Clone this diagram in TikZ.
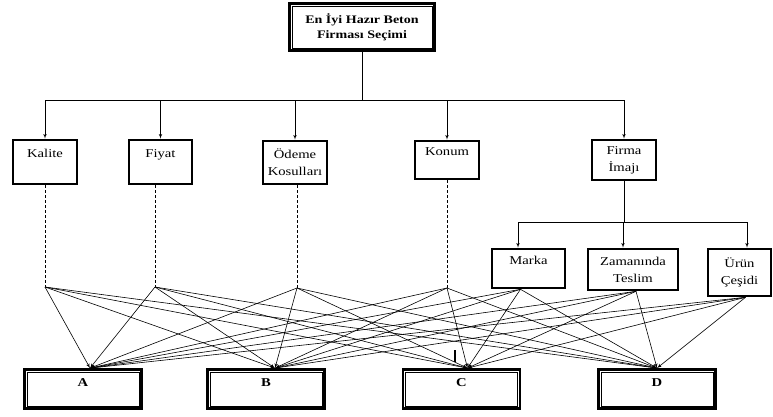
\documentclass[tikz,border=0pt]{standalone}
\usepackage{fontspec}
\setmainfont[FakeStretch=1.22]{Liberation Serif}
\usetikzlibrary{arrows}

\begin{document}
\begin{tikzpicture}[x=1pt,y=-1pt]

\tikzset{crit/.style = {draw, line width=2.6pt, align=center, inner sep=2pt,
  font=\fontsize{12}{17}\selectfont}}
\tikzset{dbox/.style = {draw, line width=2.8pt, align=center,
  font=\fontsize{11.5}{15}\selectfont\bfseries}}
\tikzset{edge/.style = {->,> = latex', line width=0.6pt}}
\tikzset{link/.style = {line width=0.6pt}}
\tikzset{dashline/.style = {line width=0.6pt, dash pattern=on 3pt off 2pt}}

\useasboundingbox (0,0) rectangle (773,416);

%goal
\node[dbox, minimum width=145, minimum height=47] (goal) at (362,27) {En İyi Hazır Beton\\Firması Seçimi};
%criteria
\node[crit, minimum width=64, minimum height=44] (kalite) at (45,162) {Kalite\\\mbox{}};
\node[crit, minimum width=63, minimum height=44] (fiyat) at (160.5,162) {Fiyat\\\mbox{}};
\node[crit, minimum width=64, minimum height=43] (odeme) at (295,162.5) {Ödeme\\Kosulları};
\node[crit, minimum width=64, minimum height=38] (konum) at (447,160) {Konum\\\mbox{}};
\node[crit, minimum width=64, minimum height=40] (firma) at (624,160) {Firma\\İmajı};
%sub criteria
\node[crit, minimum width=73, minimum height=39] (marka) at (528.5,268.5) {Marka\\\mbox{}};
\node[crit, minimum width=90, minimum height=41] (zaman) at (633,269.5) {Zamanında\\Teslim};
\node[crit, minimum width=63, minimum height=47] (urun) at (739.5,272.5) {Ürün\\Çeşidi};
%alternatives
\tikzset{alt/.style = {dbox, minimum width=117, minimum height=39, font=\fontsize{12}{12}\selectfont\bfseries}}
\node[alt] (A) at (83,389) {A\\\mbox{}};
\node[alt] (B) at (266,389) {B\\\mbox{}};
\node[alt] (C) at (461.5,389) {C\\\mbox{}};
\node[alt] (D) at (657,389) {D\\\mbox{}};
%inner frames
\foreach \n in {goal,A,B,C,D}
  \draw[line width=0.7pt] ([shift={(4,-4)}]\n.south west) rectangle ([shift={(-4,4)}]\n.north east);

%hierarchy
\coordinate (bar) at (goal.south |- 0,100);
\draw[link] (goal.south) -- (bar);
\draw[link] (kalite.north |- bar) -- (firma.north |- bar);
\foreach \n in {kalite,fiyat,odeme,konum,firma}
  \draw[edge] (\n.north |- bar) -- (\n.north);

\coordinate (fbar) at (firma.south |- 0,222);
\coordinate (m0) at (518,222);
\coordinate (z0) at (623,222);
\coordinate (u0) at (747,222);
\draw[link] (firma.south) -- (fbar);
\draw[link] (m0) -- (u0);
\draw[edge] (m0) -- (m0 |- marka.north);
\draw[edge] (z0) -- (z0 |- zaman.north);
\draw[edge] (u0) -- (u0 |- urun.north);

%fan points
\coordinate (kp) at (45,287);
\coordinate (fp) at (155,287);
\coordinate (op) at (297,288);
\coordinate (np) at (447,288);
\coordinate (mp) at ([xshift=-8]marka.south);
\coordinate (zp) at ([xshift=3]zaman.south);
\coordinate (up) at ([xshift=6]urun.south);
\draw[dashline] (kp |- kalite.south) -- (kp);
\draw[dashline] (fp |- fiyat.south) -- (fp);
\draw[dashline] (op |- odeme.south) -- (op);
\draw[dashline] (np |- konum.south) -- (np);

%criteria to alternatives
\foreach \s in {kp,fp,op,np,mp,zp,up}
  \foreach \t/\d in {A/7,B/9,C/6,D/0}
    \draw[edge] (\s) -- ([xshift=\d]\t.north);

\draw[line width=1.2pt] (455,350) -- (455,362);

\end{tikzpicture}
\end{document}
